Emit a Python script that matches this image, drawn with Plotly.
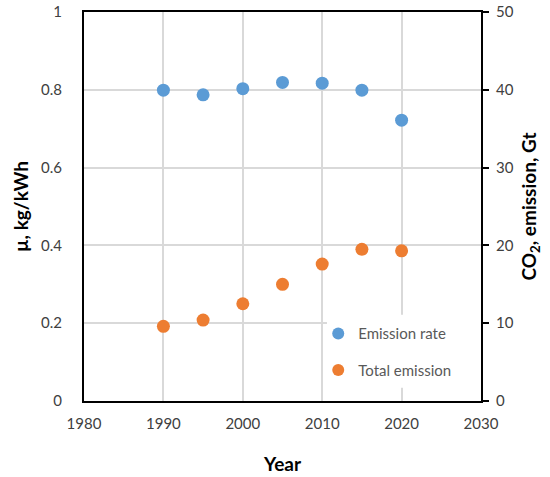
import plotly.graph_objects as go

years = [1990, 1995, 2000, 2005, 2010, 2015, 2020]
emission_rate = [0.799, 0.787, 0.803, 0.819, 0.817, 0.799, 0.722]   # kg/kWh
total_emission = [9.6, 10.4, 12.5, 15.0, 17.6, 19.5, 19.3]          # Gt

FONT = "Lato"
TICK_COLOR = "#404040"

fig = go.Figure()
fig.add_trace(go.Scatter(
    x=years, y=emission_rate, mode="markers", name="Emission rate", legendgroup="a",
    marker=dict(color="#5B9BD5", size=13), yaxis="y"))
fig.add_trace(go.Scatter(
    x=years, y=total_emission, mode="markers", name="Total emission", legendgroup="b",
    marker=dict(color="#ED7D31", size=13), yaxis="y2"))

# white area behind the legend (covers gridlines, like the reference)
fig.add_shape(type="rect", xref="x", yref="y", x0=2010.6, x1=2030, y0=0.034, y1=0.222,
              fillcolor="white", line=dict(width=0), layer="between")

fig.update_layout(
    width=550, height=477,
    margin=dict(l=84, r=69, t=12, b=76, autoexpand=False),
    paper_bgcolor="white", plot_bgcolor="white",
    font=dict(family=FONT, size=15, color=TICK_COLOR),
    showlegend=True,
    legend=dict(x=0.59, y=0.215, xanchor="left", yanchor="top",
                bgcolor="rgba(0,0,0,0)", borderwidth=0,
                font=dict(family=FONT, size=15, color="#595959"),
                itemsizing="constant", tracegroupgap=14),
    xaxis=dict(range=[1980, 2030], tick0=1980, dtick=10, automargin=False,
               showgrid=True, gridcolor="#d9d9d9", gridwidth=1.5,
               showline=True, linecolor="black", linewidth=2, mirror=True,
               zeroline=False, ticks="", ticklabelstandoff=8,
               title=dict(text="<b>Year</b>", font=dict(family=FONT, size=19, color="black"),
                          standoff=27)),
    yaxis=dict(range=[0, 1], dtick=0.2, tickformat="~g", automargin=False,
               showgrid=True, gridcolor="#d9d9d9", gridwidth=1.5,
               showline=True, linecolor="black", linewidth=2,
               zeroline=False, ticks="", ticklabelstandoff=17,
               title=dict(text="<b>µ, kg/kWh</b>", font=dict(family=FONT, size=19, color="black"),
                          standoff=7)),
    yaxis2=dict(range=[0, 50], dtick=10, overlaying="y", side="right", automargin=False,
                showgrid=False, showline=True, linecolor="black", linewidth=2,
                zeroline=False, ticks="outside", ticklen=6, tickwidth=1.5, tickcolor="black",
                ticklabelstandoff=4,
                title=dict(text="<b>CO<sub>2</sub>, emission, Gt</b>",
                           font=dict(family=FONT, size=19, color="black"), standoff=10)),
)

# remove the browser's default 8px body margin so the figure fills the window exactly
fig.write_html("out.html", config={"displayModeBar": False},
               post_script="document.body.style.margin='0';")
